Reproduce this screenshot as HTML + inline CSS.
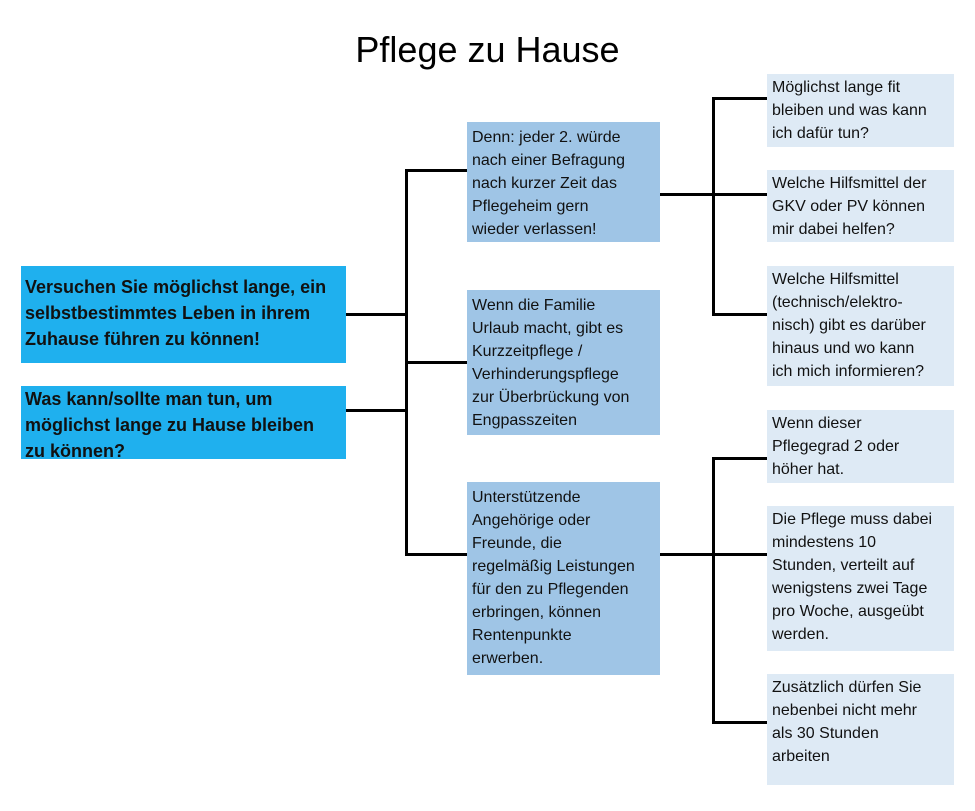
<!DOCTYPE html>
<html><head><meta charset="utf-8"><style>
body{margin:0;width:975px;height:811px;background:#fff;position:relative;font-family:"Liberation Sans",Arial,sans-serif;overflow:hidden}
.t{position:absolute;left:0;width:975px;top:29px;text-align:center;font-size:36px;color:#000}
.b{position:absolute;box-sizing:border-box;padding:4px 5px;font-size:16px;line-height:23px;color:#111;white-space:nowrap}
.L{background:#1fb0ee;font-weight:bold;font-size:18px;line-height:26px;padding:6px 4px}
.M{background:#9fc5e6}
.R{background:#deeaf5}
.h{position:absolute;height:3px;background:#000}
.v{position:absolute;width:3px;background:#000}
</style></head><body>
<div class="t">Pflege zu Hause</div>

<div class="b L" style="left:21px;top:266px;width:325px;height:97px;padding-top:8px">Versuchen Sie möglichst lange, ein<br>selbstbestimmtes Leben in ihrem<br>Zuhause führen zu können!</div>
<div class="b L" style="left:21px;top:386px;width:325px;height:73px;padding-top:0">Was kann/sollte man tun, um<br>möglichst lange zu Hause bleiben<br>zu können?</div>

<div class="h" style="left:346px;top:313px;width:61px"></div>
<div class="h" style="left:346px;top:409px;width:61px"></div>
<div class="v" style="left:405px;top:169px;height:387px"></div>
<div class="h" style="left:405px;top:169px;width:62px"></div>
<div class="h" style="left:405px;top:361px;width:62px"></div>
<div class="h" style="left:405px;top:553px;width:62px"></div>

<div class="b M" style="left:467px;top:122px;width:193px;height:120px">Denn: jeder 2. würde<br>nach einer Befragung<br>nach kurzer Zeit das<br>Pflegeheim gern<br>wieder verlassen!</div>
<div class="b M" style="left:467px;top:290px;width:193px;height:145px">Wenn die Familie<br>Urlaub macht, gibt es<br>Kurzzeitpflege /<br>Verhinderungspflege<br>zur Überbrückung von<br>Engpasszeiten</div>
<div class="b M" style="left:467px;top:482px;width:193px;height:193px">Unterstützende<br>Angehörige oder<br>Freunde, die<br>regelmäßig Leistungen<br>für den zu Pflegenden<br>erbringen, können<br>Rentenpunkte<br>erwerben.</div>

<div class="h" style="left:660px;top:193px;width:107px"></div>
<div class="v" style="left:712px;top:97px;height:219px"></div>
<div class="h" style="left:712px;top:97px;width:55px"></div>
<div class="h" style="left:712px;top:313px;width:55px"></div>

<div class="h" style="left:660px;top:553px;width:107px"></div>
<div class="v" style="left:712px;top:457px;height:267px"></div>
<div class="h" style="left:712px;top:457px;width:55px"></div>
<div class="h" style="left:712px;top:721px;width:55px"></div>

<div class="b R" style="left:767px;top:74px;width:187px;height:73px;padding-top:2px">Möglichst lange fit<br>bleiben und was kann<br>ich dafür tun?</div>
<div class="b R" style="left:767px;top:170px;width:187px;height:72px;padding-top:2px">Welche Hilfsmittel der<br>GKV oder PV können<br>mir dabei helfen?</div>
<div class="b R" style="left:767px;top:266px;width:187px;height:120px;padding-top:2px">Welche Hilfsmittel<br>(technisch/elektro-<br>nisch) gibt es darüber<br>hinaus und wo kann<br>ich mich informieren?</div>
<div class="b R" style="left:767px;top:410px;width:187px;height:73px;padding-top:2px">Wenn dieser<br>Pflegegrad 2 oder<br>höher hat.</div>
<div class="b R" style="left:767px;top:506px;width:187px;height:145px;padding-top:2px">Die Pflege muss dabei<br>mindestens 10<br>Stunden, verteilt auf<br>wenigstens zwei Tage<br>pro Woche, ausgeübt<br>werden.</div>
<div class="b R" style="left:767px;top:674px;width:187px;height:111px;padding-top:2px">Zusätzlich dürfen Sie<br>nebenbei nicht mehr<br>als 30 Stunden<br>arbeiten</div>
</body></html>
